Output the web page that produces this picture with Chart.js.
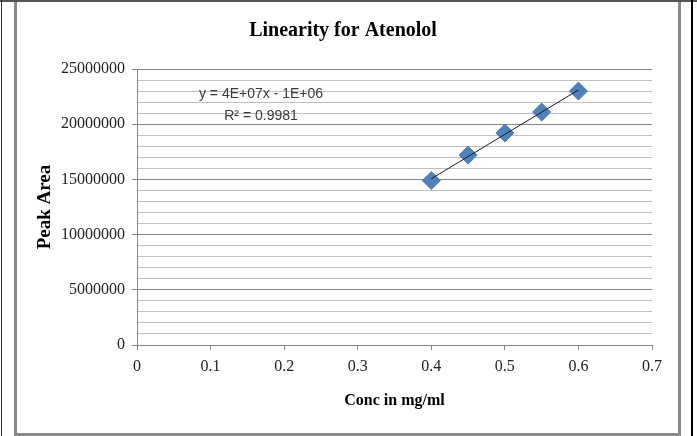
<!DOCTYPE html>
<html>
<head>
<meta charset="utf-8">
<title>Linearity for Atenolol</title>
<script src="https://cdn.jsdelivr.net/npm/chart.js@4.4.0/dist/chart.umd.min.js"></script>
<style>
  html, body { margin: 0; padding: 0; background: #fff; }
  #wrap { width: 697px; height: 436px; }
</style>
</head>
<body>
<div id="wrap"><canvas id="myChart" width="697" height="436"></canvas></div>
<script>
// data
const concentrations = [0.4, 0.45, 0.5, 0.55, 0.6];
const peakAreas = [14900000, 17200000, 19200000, 21100000, 23000000];
const equationLines = ['y = 4E+07x - 1E+06', 'R\u00B2 = 0.9981'];

const serif = '"Liberation Serif", "Times New Roman", serif';

// least squares line through the points
const n = concentrations.length;
const mx = concentrations.reduce((a, b) => a + b, 0) / n;
const my = peakAreas.reduce((a, b) => a + b, 0) / n;
let sxy = 0, sxx = 0;
for (let i = 0; i < n; i++) {
  sxy += (concentrations[i] - mx) * (peakAreas[i] - my);
  sxx += (concentrations[i] - mx) ** 2;
}
const slope = sxy / sxx;
const intercept = my - slope * mx;
const xFirst = concentrations[0], xLast = concentrations[n - 1];

const frame = {
  id: 'frame',
  beforeDraw(chart) {
    const c = chart.ctx;
    c.save();
    c.fillStyle = '#fff';
    c.fillRect(0, 0, chart.width, chart.height);
    c.fillStyle = '#8a8a8a';
    c.fillRect(14, 0, 3, 436);
    c.fillRect(678, 0, 3, 436);
    c.fillRect(14, 433, 667, 3);
    c.fillStyle = '#555';
    c.fillRect(0, 0, 697, 2);
    c.fillStyle = '#333';
    c.fillRect(1, 0, 1, 436);
    c.fillStyle = '#000';
    c.fillRect(691, 0, 2, 436);
    c.restore();
  }
};

const equation = {
  id: 'equation',
  afterDatasetsDraw(chart) {
    const c = chart.ctx;
    const a = chart.chartArea;
    c.save();
    c.font = '14px "Liberation Sans", Arial, sans-serif';
    c.fillStyle = '#3a3a3a';
    c.textAlign = 'center';
    c.textBaseline = 'middle';
    c.fillText(equationLines[0], a.left + 124, a.top + 25);
    c.fillText(equationLines[1], a.left + 124, a.top + 47);
    c.restore();
  }
};

const ctx = document.getElementById('myChart');

new Chart(ctx, {
  type: 'scatter',
  data: {
    datasets: [{
      label: 'Linear',
      data: [
        { x: xFirst, y: slope * xFirst + intercept },
        { x: xLast, y: slope * xLast + intercept }
      ],
      showLine: true,
      borderColor: '#1a1a1a',
      borderWidth: 1,
      pointRadius: 0
    }, {
      label: 'Peak Area',
      data: concentrations.map((c, i) => ({ x: c, y: peakAreas[i] })),
      pointStyle: 'rectRot',
      pointRadius: 9,
      backgroundColor: '#4F81BD',
      borderColor: '#4A7AB5',
      borderWidth: 1
    }]
  },
  options: {
    responsive: false,
    animation: false,
    devicePixelRatio: 1,
    layout: { padding: { left: 34, right: 45, top: 0, bottom: 21 } },
    plugins: {
      legend: { display: false },
      tooltip: { enabled: false },
      title: {
        display: true,
        text: 'Linearity for Atenolol',
        color: '#000',
        font: { family: serif, size: 20, weight: 'bold', lineHeight: 1.2 },
        padding: { top: 19, bottom: 26 }
      }
    },
    scales: {
      x: {
        type: 'linear',
        min: 0,
        max: 0.7,
        afterFit(scale) { scale.height = 70; },
        ticks: {
          stepSize: 0.1,
          padding: 7,
          color: '#222',
          font: { family: serif, size: 16 },
          callback: v => String(Number(v.toFixed(1)))
        },
        grid: {
          drawOnChartArea: false,
          drawTicks: true,
          tickLength: 5,
          color: '#868686'
        },
        border: { color: '#868686', width: 1 },
        title: {
          display: true,
          text: 'Conc in mg/ml',
          color: '#000',
          font: { family: serif, size: 16, weight: 'bold', lineHeight: 1.2 },
          padding: { top: 0, bottom: 5 }
        }
      },
      y: {
        min: 0,
        max: 25000000,
        afterFit(scale) { scale.width = 103; },
        ticks: {
          stepSize: 1000000,
          autoSkip: false,
          padding: 7,
          color: '#222',
          font: { family: serif, size: 16 },
          callback: v => (v % 5000000 === 0 ? String(v) : '')
        },
        grid: {
          tickLength: 5,
          color: c => (c.tick && c.tick.value % 5000000 === 0 ? '#878787' : '#c0c0c0'),
          tickColor: c => (c.tick && c.tick.value % 5000000 === 0 ? '#878787' : 'rgba(0,0,0,0)')
        },
        border: { color: '#868686', width: 1 },
        title: {
          display: true,
          text: 'Peak Area',
          color: '#000',
          font: { family: serif, size: 19, weight: 'bold', lineHeight: 1.2 },
          padding: { top: 0, bottom: 0 }
        }
      }
    }
  },
  plugins: [frame, equation]
});
</script>
</body>
</html>
